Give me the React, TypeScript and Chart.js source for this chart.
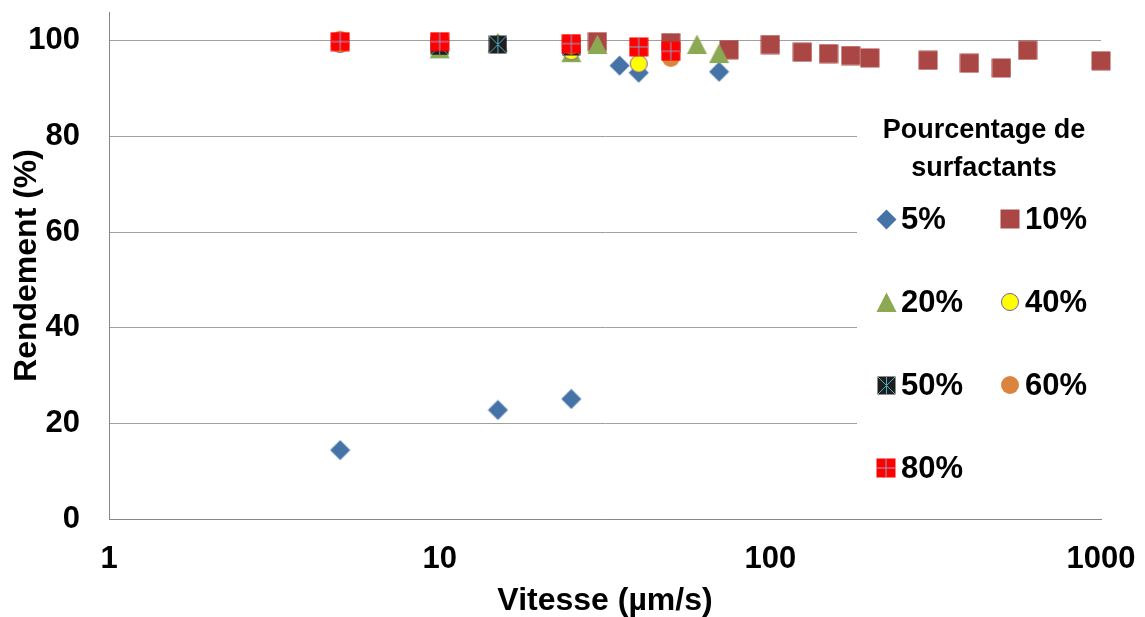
import React, { useEffect, useRef } from 'react';
import { Chart, registerables } from 'chart.js';

Chart.register(...registerables);

const xTicks = [1, 10, 100, 1000];
const yTicks = [0, 20, 40, 60, 80, 100];
const seriesNames = ['5%', '10%', '20%', '40%', '50%', '60%', '80%'];
const legendTitle = ['Pourcentage de', 'surfactants'];
const xTitle = 'Vitesse (µm/s)';
const yTitle = 'Rendement (%)';

const x5 = [5, 15, 25, 35, 40, 70];
const y5 = [14.4, 22.8, 25.1, 94.8, 93.3, 93.5];
const x10 = [30, 50, 75, 100, 125, 150, 175, 200, 300, 400, 500, 600, 1000];
const y10 = [99.8, 99.6, 98.1, 99.2, 97.6, 97.3, 96.9, 96.4, 95.9, 95.3, 94.3, 98.0, 95.8];
const x20 = [10, 15, 25, 30, 60, 70];
const y20 = [98.3, 99.6, 97.5, 99.2, 99.2, 97.3];
const x40 = [5, 25, 40];
const y40 = [99.3, 97.8, 95.2];
const x50 = [10, 15, 25];
const y50 = [98.9, 99.2, 98.8];
const x60 = [5, 25, 50];
const y60 = [100.2, 99.0, 96.4];
const x80 = [5, 10, 25, 40, 50];
const y80 = [99.8, 99.8, 99.4, 98.7, 97.8];

const FONT = "'Liberation Sans', Arial, sans-serif";

function mk(size: number, draw: (c: CanvasRenderingContext2D, s: number) => void) {
  const cv = document.createElement('canvas');
  cv.width = size;
  cv.height = size;
  const c = cv.getContext('2d') as CanvasRenderingContext2D;
  draw(c, size);
  return cv;
}

function makeMarkers() {
  const diamond = mk(21, (c) => {
    c.beginPath();
    c.moveTo(10.5, 0.5);
    c.lineTo(20.5, 10.5);
    c.lineTo(10.5, 20.5);
    c.lineTo(0.5, 10.5);
    c.closePath();
    c.fillStyle = '#4573A7';
    c.fill();
  });
  const square = mk(20, (c) => {
    c.fillStyle = '#AA4643';
    c.fillRect(0.5, 0.5, 19, 19);
  });
  const triangle = mk(21, (c) => {
    c.beginPath();
    c.moveTo(10.5, 0.5);
    c.lineTo(20.5, 20);
    c.lineTo(0.5, 20);
    c.closePath();
    c.fillStyle = '#8DA852';
    c.fill();
  });
  const yellow = mk(20, (c) => {
    c.beginPath();
    c.arc(10, 10, 8.5, 0, Math.PI * 2);
    c.fillStyle = '#FFFF00';
    c.fill();
    c.lineWidth = 1;
    c.strokeStyle = '#7A5FA0';
    c.stroke();
  });
  const star = mk(19, (c) => {
    c.fillStyle = '#1E1E1E';
    c.fillRect(0.5, 0.5, 18, 18);
    c.strokeStyle = '#4BACC6';
    c.lineWidth = 1;
    c.beginPath();
    c.moveTo(1, 1);
    c.lineTo(18, 18);
    c.moveTo(18, 1);
    c.lineTo(1, 18);
    c.moveTo(9.5, 1);
    c.lineTo(9.5, 18);
    c.stroke();
  });
  const orange = mk(20, (c) => {
    c.beginPath();
    c.arc(10, 10, 9, 0, Math.PI * 2);
    c.fillStyle = '#DB843D';
    c.fill();
  });
  const redCross = mk(20, (c) => {
    c.fillStyle = '#FF0000';
    c.fillRect(0.5, 0.5, 19, 19);
    c.strokeStyle = '#8EA5CF';
    c.lineWidth = 1;
    c.beginPath();
    c.moveTo(10, 1);
    c.lineTo(10, 19);
    c.moveTo(1, 10);
    c.lineTo(19, 10);
    c.stroke();
  });
  return [diamond, square, triangle, yellow, star, orange, redCross];
}

function zeroPad(s: any) {
  s.paddingTop = 0;
  s.paddingBottom = 0;
  s.paddingLeft = 0;
  s.paddingRight = 0;
}

export default function App() {
  const ref = useRef<HTMLCanvasElement | null>(null);

  useEffect(() => {
    if (!ref.current) return;
    const markers = makeMarkers();
    const xs = [x5, x10, x20, x40, x50, x60, x80];
    const ys = [y5, y10, y20, y40, y50, y60, y80];

    const datasets = seriesNames.map((name, i) => ({
      label: name,
      data: xs[i].map((x, j) => ({ x, y: ys[i][j] })),
      pointStyle: markers[i] as any,
      pointRadius: 10,
      pointHoverRadius: 10,
      showLine: false,
      order: seriesNames.length - i,
      clip: false as any,
    }));

    const legendPlugin = {
      id: 'excelLegend',
      beforeDatasetsDraw(chart: any) {
        const ctx = chart.ctx as CanvasRenderingContext2D;
        ctx.save();
        ctx.fillStyle = '#FFFFFF';
        ctx.fillRect(857, 98, 250, 402);
        ctx.restore();
      },
      afterDraw(chart: any) {
        const ctx = chart.ctx as CanvasRenderingContext2D;
        ctx.save();
        ctx.fillStyle = '#000';
        ctx.textBaseline = 'middle';
        ctx.textAlign = 'center';
        ctx.font = `bold 27px ${FONT}`;
        ctx.fillText(legendTitle[0], 984, 131);
        ctx.fillText(legendTitle[1], 984, 169);
        ctx.font = `bold 31px ${FONT}`;
        ctx.textAlign = 'left';
        const rowsY = [219, 302, 385, 468];
        const colMarkerX = [886, 1010];
        const colTextX = [901, 1025];
        seriesNames.forEach((name, i) => {
          const row = Math.floor(i / 2);
          const col = i % 2;
          const m = markers[i];
          const cx = colMarkerX[col];
          const cy = rowsY[row];
          ctx.drawImage(m, Math.round(cx - m.width / 2), Math.round(cy - m.height / 2));
          ctx.fillText(name, colTextX[col], cy + 1);
        });
        ctx.restore();
      },
    };

    const tickFont = { family: FONT, size: 31, weight: 'bold' as const };
    const titleFont = { family: FONT, size: 32, weight: 'bold' as const, lineHeight: 1 };

    const chart = new Chart(ref.current, {
      type: 'scatter',
      data: { datasets: datasets as any },
      options: {
        animation: false,
        responsive: false,
        events: [],
        layout: { autoPadding: false, padding: { left: 0, right: 44, top: 12, bottom: 0 } },
        plugins: { legend: { display: false }, tooltip: { enabled: false } },
        scales: {
          x: {
            type: 'logarithmic',
            min: 1,
            max: 1000,
            afterBuildTicks: (s: any) => {
              s.ticks = xTicks.map((v) => ({ value: v }));
            },
            afterFit: (s: any) => {
              s.height = 98;
              zeroPad(s);
            },
            grid: { display: false, drawTicks: false },
            border: { display: true, color: '#868686', width: 1 },
            ticks: {
              callback: (v: any) => String(v),
              font: tickFont,
              color: '#000',
              padding: 22,
              maxRotation: 0,
              autoSkip: false,
            },
            title: {
              display: true,
              text: xTitle,
              font: titleFont,
              color: '#000',
              padding: { top: 0, bottom: 0 },
            },
          },
          y: {
            min: 0,
            max: 106,
            afterBuildTicks: (s: any) => {
              s.ticks = yTicks.map((v) => ({ value: v }));
            },
            afterFit: (s: any) => {
              s.width = 109;
              zeroPad(s);
            },
            grid: { color: '#A0A0A0', lineWidth: 1, drawTicks: false },
            border: { display: true, color: '#868686', width: 1 },
            ticks: { font: tickFont, color: '#000', padding: 29 },
            title: {
              display: true,
              text: yTitle,
              font: titleFont,
              color: '#000',
              padding: { top: 11, bottom: 0 },
            },
          },
        },
      } as any,
      plugins: [legendPlugin],
    });
    return () => chart.destroy();
  }, []);

  return (
    <div style={{ position: 'fixed', left: 0, top: 0, width: 1145, height: 617, background: '#fff' }}>
      <canvas ref={ref} width={1145} height={617} style={{ display: 'block' }} />
    </div>
  );
}
